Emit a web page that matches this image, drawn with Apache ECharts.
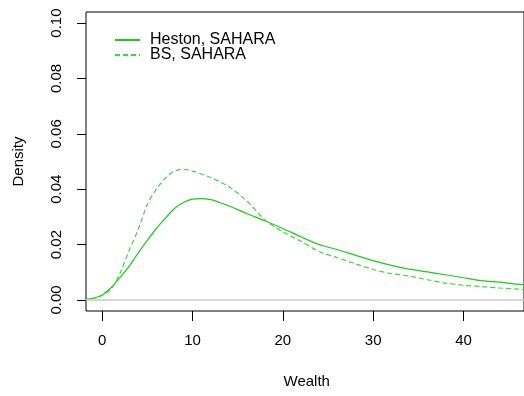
<!DOCTYPE html>
<html>
<head>
<meta charset="utf-8">
<script src="https://cdn.jsdelivr.net/npm/echarts@6/dist/echarts.min.js"></script>
<style>
html,body{margin:0;padding:0;background:#fff;}
#chart{width:524px;height:396px;}
</style>
</head>
<body>
<div id="chart"></div>
<script>
// Data
const wealth = [-3, -2, -1, 0, 1, 2, 3, 4, 5, 6, 7, 8, 9, 10, 11, 12, 13, 14, 16, 18, 20, 22, 24, 26, 28, 30, 32, 34, 36, 38, 40, 42, 44, 46, 48];
const hestonDensity = [0.0000, 0.0002, 0.0006, 0.0018, 0.0045, 0.0082, 0.0122, 0.0170, 0.0215, 0.0258, 0.0295, 0.0330, 0.0352, 0.0364, 0.0366, 0.0362, 0.0352, 0.0340, 0.0312, 0.0286, 0.0258, 0.0228, 0.0200, 0.0182, 0.0162, 0.0142, 0.0125, 0.0111, 0.0101, 0.0091, 0.0080, 0.0070, 0.0064, 0.0057, 0.0052];
const bsDensity = [0.0000, 0.0001, 0.0005, 0.0016, 0.0040, 0.0098, 0.0180, 0.0255, 0.0345, 0.0400, 0.0440, 0.0465, 0.0472, 0.0465, 0.0455, 0.0442, 0.0427, 0.0410, 0.0358, 0.0290, 0.0246, 0.0212, 0.0175, 0.0153, 0.0131, 0.0110, 0.0095, 0.0086, 0.0073, 0.0061, 0.0053, 0.0048, 0.0043, 0.0039, 0.0036];
const seriesNames = ['Heston, SAHARA', 'BS, SAHARA'];
const xTicks = [0, 10, 20, 30, 40];
const yTicks = [0, 0.02, 0.04, 0.06, 0.08, 0.10];
const xTitle = 'Wealth';
const yTitle = 'Density';

const font = 'Liberation Sans, Arial, sans-serif';
const chart = echarts.init(document.getElementById('chart'), null, {renderer: 'canvas'});
const pair = (xs, ys) => xs.map((x, i) => [x, ys[i]]);

chart.setOption({
  animation: false,
  backgroundColor: '#fff',
  grid: {left: 86, top: 12, width: 441, height: 299, show: true, borderColor: '#000', borderWidth: 1, backgroundColor: 'transparent'},
  legend: {
    orient: 'vertical', left: 114, top: 32, padding: 0,
    itemWidth: 25, itemHeight: 14, itemGap: -1,
    itemStyle: {opacity: 0},
    textStyle: {fontFamily: font, fontSize: 16, color: '#000', lineHeight: 14, padding: [0, 0, 0, 5]},
    data: seriesNames
  },
  title: [
    {text: xTitle, left: 306.7, top: 374, textAlign: 'center', padding: 0,
      textStyle: {fontFamily: font, fontSize: 15, fontWeight: 'normal', color: '#000'}}
  ],
  xAxis: {
    type: 'value', min: -1.79, max: 46.7,
    axisLine: {show: false, onZero: false},
    splitLine: {show: false},
    axisTick: {show: true, inside: false, length: 10, customValues: xTicks, lineStyle: {color: '#000'}},
    axisLabel: {customValues: xTicks, margin: 22, fontFamily: font, fontSize: 15, color: '#000'}
  },
  yAxis: {
    type: 'value', min: -0.004, max: 0.104,
    name: yTitle, nameLocation: 'middle', nameGap: 60, nameRotate: 90,
    nameTextStyle: {fontFamily: font, fontSize: 15, color: '#000'},
    axisLine: {show: false, onZero: false},
    splitLine: {show: false},
    axisTick: {show: true, inside: false, length: 9, customValues: yTicks, lineStyle: {color: '#000'}},
    axisLabel: {customValues: yTicks, rotate: 90, margin: 22, fontFamily: font, fontSize: 15, color: '#000',
      formatter: v => v.toFixed(2)}
  },
  series: [
    {
      name: seriesNames[0], type: 'line', data: pair(wealth, hestonDensity),
      showSymbol: false, symbol: 'none', smooth: 0.3,
      lineStyle: {color: '#19cc19', width: 1.2, type: 'solid'},
      itemStyle: {color: '#19cc19'},
      markLine: {silent: true, symbol: 'none', label: {show: false},
        lineStyle: {color: '#c8c8c8', width: 1.5, type: 'solid'}, data: [{yAxis: 0}]}
    },
    {
      name: seriesNames[1], type: 'line', data: pair(wealth, bsDensity),
      showSymbol: false, symbol: 'none', smooth: 0.3,
      lineStyle: {color: '#3fd43f', width: 1.2, type: [5, 3]},
      itemStyle: {color: '#3fd43f'}
    }
  ]
});
</script>
</body>
</html>
